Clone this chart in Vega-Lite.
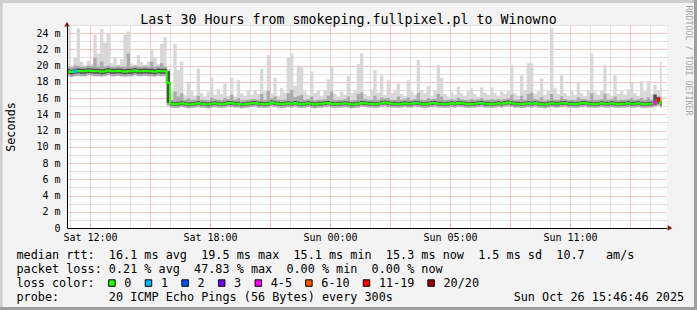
{
"$schema": "https://vega.github.io/schema/vega-lite/v6.json",
"width": 600, "height": 203,
"autosize": {"type": "none"},
"padding": {"left": 67, "top": 25, "right": 30, "bottom": 82},
"background": "#f3f3f3",
"config": {"view": {"fill": "#ffffff", "stroke": null}, "font": "DejaVu Sans Mono"},
"data": {"values": [
{"t":55,"med":19.3,"lo":18.7,"q1":19.0,"q3":19.6,"up":19.9,"max":24.6},
{"t":65,"med":19.2,"lo":18.6,"q1":18.9,"q3":19.5,"up":19.8,"max":20.0},
{"t":75,"med":19.3,"lo":18.7,"q1":19.0,"q3":19.6,"up":20.0,"max":21.0,"loss":"1"},
{"t":85,"med":19.35,"lo":18.75,"q1":19.05,"q3":19.65,"up":19.95,"max":24.6},
{"t":95,"med":19.3,"lo":18.7,"q1":19.0,"q3":19.6,"up":19.9,"max":20.5},
{"t":105,"med":19.3,"lo":18.7,"q1":19.0,"q3":19.6,"up":19.9,"max":20.0},
{"t":115,"med":19.4,"lo":18.8,"q1":19.1,"q3":19.7,"up":20.0,"max":20.6},
{"t":125,"med":19.35,"lo":18.75,"q1":19.05,"q3":19.65,"up":19.95,"max":20.2},
{"t":135,"med":19.3,"lo":18.7,"q1":19.0,"q3":19.6,"up":21.0,"max":23.8},
{"t":145,"med":19.3,"lo":18.7,"q1":19.0,"q3":19.6,"up":19.9,"max":21.5},
{"t":155,"med":19.25,"lo":18.65,"q1":18.95,"q3":19.55,"up":20.5,"max":24.5},
{"t":165,"med":19.3,"lo":18.7,"q1":19.0,"q3":19.6,"up":19.9,"max":22.8},
{"t":175,"med":19.4,"lo":18.8,"q1":19.1,"q3":19.7,"up":20.0,"max":24.0},
{"t":185,"med":19.3,"lo":18.7,"q1":19.0,"q3":19.6,"up":19.9,"max":20.3},
{"t":195,"med":19.3,"lo":18.7,"q1":19.0,"q3":19.6,"up":19.9,"max":21.0},
{"t":205,"med":19.35,"lo":18.75,"q1":19.05,"q3":19.65,"up":19.95,"max":20.1},
{"t":215,"med":19.3,"lo":18.7,"q1":19.0,"q3":19.6,"up":19.9,"max":20.8},
{"t":225,"med":19.25,"lo":18.65,"q1":18.95,"q3":19.55,"up":19.85,"max":23.8},
{"t":235,"med":19.3,"lo":18.7,"q1":19.0,"q3":19.6,"up":21.5,"max":24.2},
{"t":245,"med":19.3,"lo":18.7,"q1":19.0,"q3":19.6,"up":19.9,"max":20.3},
{"t":255,"med":19.4,"lo":18.8,"q1":19.1,"q3":19.7,"up":20.0,"max":20.1},
{"t":265,"med":19.3,"lo":18.7,"q1":19.0,"q3":19.6,"up":19.9,"max":21.3},
{"t":275,"med":19.3,"lo":18.7,"q1":19.0,"q3":19.6,"up":19.9,"max":20.4},
{"t":285,"med":19.35,"lo":18.75,"q1":19.05,"q3":19.65,"up":19.95,"max":20.1},
{"t":295,"med":19.3,"lo":18.7,"q1":19.0,"q3":19.6,"up":19.9,"max":20.5},
{"t":305,"med":19.3,"lo":18.7,"q1":19.0,"q3":19.6,"up":20.5,"max":22.0},
{"t":315,"med":19.25,"lo":18.65,"q1":18.95,"q3":19.55,"up":19.85,"max":21.0},
{"t":325,"med":19.35,"lo":18.75,"q1":19.05,"q3":19.65,"up":19.95,"max":20.2},
{"t":335,"med":19.3,"lo":18.7,"q1":19.0,"q3":19.6,"up":20.3,"max":22.7},
{"t":345,"med":19.3,"lo":18.7,"q1":19.0,"q3":19.6,"up":19.9,"max":23.5},
{"t":355,"med":17.9,"lo":15.1,"q1":15.4,"q3":19.3,"up":19.4,"max":19.6},
{"t":365,"med":15.3,"lo":14.85,"q1":15.1,"q3":15.55,"up":15.8,"max":16.8},
{"t":375,"med":15.25,"lo":14.8,"q1":15.05,"q3":15.5,"up":16.8,"max":22.7},
{"t":385,"med":15.3,"lo":14.85,"q1":15.1,"q3":15.55,"up":16.2,"max":19.5},
{"t":395,"med":15.35,"lo":14.9,"q1":15.15,"q3":15.6,"up":16.6,"max":20.5},
{"t":405,"med":15.3,"lo":14.85,"q1":15.1,"q3":15.55,"up":15.8,"max":16.4},
{"t":415,"med":15.2,"lo":14.75,"q1":15.0,"q3":15.45,"up":16.0,"max":18.0},
{"t":425,"med":15.25,"lo":14.8,"q1":15.05,"q3":15.5,"up":15.8,"max":16.9},
{"t":435,"med":15.3,"lo":14.85,"q1":15.1,"q3":15.55,"up":15.8,"max":16.3},
{"t":445,"med":15.4,"lo":14.95,"q1":15.2,"q3":15.65,"up":16.3,"max":19.6},
{"t":455,"med":15.3,"lo":14.85,"q1":15.1,"q3":15.55,"up":15.8,"max":16.6},
{"t":465,"med":15.25,"lo":14.8,"q1":15.05,"q3":15.5,"up":15.75,"max":16.2},
{"t":475,"med":15.2,"lo":14.75,"q1":15.0,"q3":15.45,"up":15.7,"max":16.8},
{"t":485,"med":15.3,"lo":14.85,"q1":15.1,"q3":15.55,"up":16.1,"max":18.5},
{"t":495,"med":15.35,"lo":14.9,"q1":15.15,"q3":15.6,"up":15.85,"max":16.4},
{"t":505,"med":15.3,"lo":14.85,"q1":15.1,"q3":15.55,"up":15.8,"max":17.1},
{"t":515,"med":15.25,"lo":14.8,"q1":15.05,"q3":15.5,"up":15.75,"max":16.5},
{"t":525,"med":15.3,"lo":14.85,"q1":15.1,"q3":15.55,"up":16.0,"max":17.8},
{"t":535,"med":15.4,"lo":14.95,"q1":15.2,"q3":15.65,"up":15.9,"max":16.3},
{"t":545,"med":15.35,"lo":14.9,"q1":15.15,"q3":15.6,"up":16.4,"max":18.5},
{"t":555,"med":15.3,"lo":14.85,"q1":15.1,"q3":15.55,"up":15.8,"max":16.2},
{"t":565,"med":15.3,"lo":14.85,"q1":15.1,"q3":15.55,"up":16.0,"max":18.2},
{"t":575,"med":15.2,"lo":14.75,"q1":15.0,"q3":15.45,"up":15.7,"max":16.6},
{"t":585,"med":15.25,"lo":14.8,"q1":15.05,"q3":15.5,"up":15.75,"max":16.3},
{"t":595,"med":15.3,"lo":14.85,"q1":15.1,"q3":15.55,"up":15.8,"max":16.9},
{"t":605,"med":15.35,"lo":14.9,"q1":15.15,"q3":15.6,"up":15.85,"max":16.4},
{"t":615,"med":15.4,"lo":14.95,"q1":15.2,"q3":15.65,"up":15.9,"max":17.0},
{"t":625,"med":15.3,"lo":14.85,"q1":15.1,"q3":15.55,"up":15.8,"max":16.5},
{"t":635,"med":15.3,"lo":14.85,"q1":15.1,"q3":15.55,"up":16.5,"max":19.6},
{"t":645,"med":15.25,"lo":14.8,"q1":15.05,"q3":15.5,"up":15.75,"max":16.8},
{"t":655,"med":15.3,"lo":14.85,"q1":15.1,"q3":15.55,"up":16.9,"max":21.3},
{"t":665,"med":15.45,"lo":15.0,"q1":15.25,"q3":15.7,"up":15.95,"max":16.6},
{"t":675,"med":15.35,"lo":14.9,"q1":15.15,"q3":15.6,"up":16.2,"max":18.5},
{"t":685,"med":15.3,"lo":14.85,"q1":15.1,"q3":15.55,"up":15.8,"max":16.3},
{"t":695,"med":15.25,"lo":14.8,"q1":15.05,"q3":15.5,"up":15.75,"max":17.2},
{"t":705,"med":15.3,"lo":14.85,"q1":15.1,"q3":15.55,"up":15.8,"max":16.7},
{"t":715,"med":15.35,"lo":14.9,"q1":15.15,"q3":15.6,"up":16.6,"max":21.0},
{"t":725,"med":15.3,"lo":14.85,"q1":15.1,"q3":15.55,"up":17.0,"max":21.5},
{"t":735,"med":15.4,"lo":14.95,"q1":15.2,"q3":15.65,"up":16.1,"max":17.5},
{"t":745,"med":15.3,"lo":14.85,"q1":15.1,"q3":15.55,"up":16.3,"max":20.0},
{"t":755,"med":15.25,"lo":14.8,"q1":15.05,"q3":15.5,"up":16.4,"max":19.8},
{"t":765,"med":15.3,"lo":14.85,"q1":15.1,"q3":15.55,"up":15.8,"max":16.8},
{"t":775,"med":15.35,"lo":14.9,"q1":15.15,"q3":15.6,"up":15.85,"max":16.4},
{"t":785,"med":15.3,"lo":14.85,"q1":15.1,"q3":15.55,"up":16.2,"max":19.3},
{"t":795,"med":15.2,"lo":14.75,"q1":15.0,"q3":15.45,"up":15.7,"max":16.6},
{"t":805,"med":15.3,"lo":14.85,"q1":15.1,"q3":15.55,"up":15.8,"max":16.9},
{"t":815,"med":15.3,"lo":14.85,"q1":15.1,"q3":15.55,"up":15.8,"max":16.3},
{"t":825,"med":15.35,"lo":14.9,"q1":15.15,"q3":15.6,"up":15.85,"max":17.0},
{"t":835,"med":15.4,"lo":14.95,"q1":15.2,"q3":15.65,"up":16.3,"max":18.3},
{"t":845,"med":15.3,"lo":14.85,"q1":15.1,"q3":15.55,"up":16.8,"max":19.8},
{"t":855,"med":15.25,"lo":14.8,"q1":15.05,"q3":15.5,"up":15.75,"max":16.5},
{"t":865,"med":15.3,"lo":14.85,"q1":15.1,"q3":15.55,"up":15.8,"max":16.2},
{"t":875,"med":15.3,"lo":14.85,"q1":15.1,"q3":15.55,"up":15.8,"max":16.8},
{"t":885,"med":15.35,"lo":14.9,"q1":15.15,"q3":15.6,"up":15.85,"max":16.4},
{"t":895,"med":15.3,"lo":14.85,"q1":15.1,"q3":15.55,"up":16.2,"max":18.7},
{"t":905,"med":15.2,"lo":14.75,"q1":15.0,"q3":15.45,"up":15.7,"max":16.6},
{"t":915,"med":15.25,"lo":14.8,"q1":15.05,"q3":15.5,"up":15.75,"max":16.9},
{"t":925,"med":15.3,"lo":14.85,"q1":15.1,"q3":15.55,"up":16.5,"max":20.2},
{"t":935,"med":15.4,"lo":14.95,"q1":15.2,"q3":15.65,"up":16.7,"max":21.5},
{"t":945,"med":15.35,"lo":14.9,"q1":15.15,"q3":15.6,"up":15.85,"max":16.5},
{"t":955,"med":15.3,"lo":14.85,"q1":15.1,"q3":15.55,"up":15.8,"max":16.3},
{"t":965,"med":15.3,"lo":14.85,"q1":15.1,"q3":15.55,"up":15.8,"max":17.1},
{"t":975,"med":15.25,"lo":14.8,"q1":15.05,"q3":15.5,"up":16.3,"max":19.5},
{"t":985,"med":15.3,"lo":14.85,"q1":15.1,"q3":15.55,"up":15.8,"max":16.7},
{"t":995,"med":15.4,"lo":14.95,"q1":15.2,"q3":15.65,"up":16.1,"max":18.8},
{"t":1005,"med":15.45,"lo":15.0,"q1":15.25,"q3":15.7,"up":15.95,"max":16.4},
{"t":1015,"med":15.35,"lo":14.9,"q1":15.15,"q3":15.6,"up":16.0,"max":18.2},
{"t":1025,"med":15.3,"lo":14.85,"q1":15.1,"q3":15.55,"up":15.8,"max":16.6},
{"t":1035,"med":15.3,"lo":14.85,"q1":15.1,"q3":15.55,"up":15.8,"max":16.9},
{"t":1045,"med":15.25,"lo":14.8,"q1":15.05,"q3":15.5,"up":16.2,"max":17.8},
{"t":1055,"med":15.3,"lo":14.85,"q1":15.1,"q3":15.55,"up":15.8,"max":16.5},
{"t":1065,"med":15.35,"lo":14.9,"q1":15.15,"q3":15.6,"up":15.85,"max":16.3},
{"t":1075,"med":15.3,"lo":14.85,"q1":15.1,"q3":15.55,"up":16.1,"max":18.2},
{"t":1085,"med":15.3,"lo":14.85,"q1":15.1,"q3":15.55,"up":15.8,"max":16.8},
{"t":1095,"med":15.4,"lo":14.95,"q1":15.2,"q3":15.65,"up":15.9,"max":16.4},
{"t":1105,"med":15.35,"lo":14.9,"q1":15.15,"q3":15.6,"up":16.6,"max":20.7},
{"t":1115,"med":15.3,"lo":14.85,"q1":15.1,"q3":15.55,"up":15.8,"max":17.0},
{"t":1125,"med":15.25,"lo":14.8,"q1":15.05,"q3":15.5,"up":15.75,"max":16.6},
{"t":1135,"med":15.3,"lo":14.85,"q1":15.1,"q3":15.55,"up":16.0,"max":17.5},
{"t":1145,"med":15.35,"lo":14.9,"q1":15.15,"q3":15.6,"up":15.85,"max":16.3},
{"t":1155,"med":15.4,"lo":14.95,"q1":15.2,"q3":15.65,"up":15.9,"max":16.9},
{"t":1165,"med":15.3,"lo":14.85,"q1":15.1,"q3":15.55,"up":16.5,"max":20.1},
{"t":1175,"med":15.3,"lo":14.85,"q1":15.1,"q3":15.55,"up":16.2,"max":18.5},
{"t":1185,"med":15.25,"lo":14.8,"q1":15.05,"q3":15.5,"up":15.75,"max":16.5},
{"t":1195,"med":15.3,"lo":14.85,"q1":15.1,"q3":15.55,"up":15.8,"max":16.2},
{"t":1205,"med":15.35,"lo":14.9,"q1":15.15,"q3":15.6,"up":15.85,"max":16.8},
{"t":1215,"med":15.3,"lo":14.85,"q1":15.1,"q3":15.55,"up":15.8,"max":16.4},
{"t":1225,"med":15.4,"lo":14.95,"q1":15.2,"q3":15.65,"up":16.0,"max":17.4},
{"t":1235,"med":15.35,"lo":14.9,"q1":15.15,"q3":15.6,"up":15.85,"max":16.6},
{"t":1245,"med":15.3,"lo":14.85,"q1":15.1,"q3":15.55,"up":15.8,"max":16.3},
{"t":1255,"med":15.25,"lo":14.8,"q1":15.05,"q3":15.5,"up":15.75,"max":16.9},
{"t":1265,"med":15.3,"lo":14.85,"q1":15.1,"q3":15.55,"up":15.9,"max":17.2},
{"t":1275,"med":15.3,"lo":14.85,"q1":15.1,"q3":15.55,"up":15.8,"max":16.5},
{"t":1285,"med":15.35,"lo":14.9,"q1":15.15,"q3":15.6,"up":15.85,"max":16.2},
{"t":1295,"med":15.4,"lo":14.95,"q1":15.2,"q3":15.65,"up":16.0,"max":17.3},
{"t":1305,"med":15.3,"lo":14.85,"q1":15.1,"q3":15.55,"up":15.8,"max":16.7},
{"t":1315,"med":15.3,"lo":14.85,"q1":15.1,"q3":15.55,"up":15.8,"max":16.4},
{"t":1325,"med":15.25,"lo":14.8,"q1":15.05,"q3":15.5,"up":15.9,"max":17.3},
{"t":1335,"med":15.3,"lo":14.85,"q1":15.1,"q3":15.55,"up":15.8,"max":16.6},
{"t":1345,"med":15.35,"lo":14.9,"q1":15.15,"q3":15.6,"up":15.85,"max":16.3},
{"t":1355,"med":15.3,"lo":14.85,"q1":15.1,"q3":15.55,"up":15.8,"max":16.8},
{"t":1365,"med":15.4,"lo":14.95,"q1":15.2,"q3":15.65,"up":15.9,"max":16.5},
{"t":1375,"med":15.45,"lo":15.0,"q1":15.25,"q3":15.7,"up":15.95,"max":16.9},
{"t":1385,"med":15.35,"lo":14.9,"q1":15.15,"q3":15.6,"up":16.4,"max":20.1},
{"t":1395,"med":15.3,"lo":14.85,"q1":15.1,"q3":15.55,"up":15.8,"max":16.6},
{"t":1405,"med":15.3,"lo":14.85,"q1":15.1,"q3":15.55,"up":15.8,"max":16.3},
{"t":1415,"med":15.25,"lo":14.8,"q1":15.05,"q3":15.5,"up":16.3,"max":18.8},
{"t":1425,"med":15.3,"lo":14.85,"q1":15.1,"q3":15.55,"up":15.8,"max":17.0},
{"t":1435,"med":15.35,"lo":14.9,"q1":15.15,"q3":15.6,"up":16.5,"max":20.3},
{"t":1445,"med":15.3,"lo":14.85,"q1":15.1,"q3":15.55,"up":16.7,"max":20.3},
{"t":1455,"med":15.4,"lo":14.95,"q1":15.2,"q3":15.65,"up":15.9,"max":16.5},
{"t":1465,"med":15.3,"lo":14.85,"q1":15.1,"q3":15.55,"up":15.8,"max":16.8},
{"t":1475,"med":15.25,"lo":14.8,"q1":15.05,"q3":15.5,"up":16.1,"max":18.4},
{"t":1485,"med":15.2,"lo":14.75,"q1":15.0,"q3":15.45,"up":15.7,"max":16.4},
{"t":1495,"med":15.3,"lo":14.85,"q1":15.1,"q3":15.55,"up":15.8,"max":16.9},
{"t":1505,"med":15.35,"lo":14.9,"q1":15.15,"q3":15.6,"up":16.5,"max":24.6},
{"t":1515,"med":15.3,"lo":14.85,"q1":15.1,"q3":15.55,"up":15.8,"max":17.2},
{"t":1525,"med":15.3,"lo":14.85,"q1":15.1,"q3":15.55,"up":15.8,"max":16.5},
{"t":1535,"med":15.35,"lo":14.9,"q1":15.15,"q3":15.6,"up":16.2,"max":18.8},
{"t":1545,"med":15.4,"lo":14.95,"q1":15.2,"q3":15.65,"up":15.9,"max":16.6},
{"t":1555,"med":15.3,"lo":14.85,"q1":15.1,"q3":15.55,"up":15.8,"max":16.3},
{"t":1565,"med":15.3,"lo":14.85,"q1":15.1,"q3":15.55,"up":15.8,"max":16.9},
{"t":1575,"med":15.25,"lo":14.8,"q1":15.05,"q3":15.5,"up":15.75,"max":16.4},
{"t":1585,"med":15.3,"lo":14.85,"q1":15.1,"q3":15.55,"up":16.1,"max":17.9},
{"t":1595,"med":15.35,"lo":14.9,"q1":15.15,"q3":15.6,"up":15.85,"max":16.6},
{"t":1605,"med":15.4,"lo":14.95,"q1":15.2,"q3":15.65,"up":15.9,"max":16.3},
{"t":1615,"med":15.3,"lo":14.85,"q1":15.1,"q3":15.55,"up":15.8,"max":17.0},
{"t":1625,"med":15.3,"lo":14.85,"q1":15.1,"q3":15.55,"up":16.6,"max":21.5},
{"t":1635,"med":15.25,"lo":14.8,"q1":15.05,"q3":15.5,"up":15.75,"max":16.8},
{"t":1645,"med":15.3,"lo":14.85,"q1":15.1,"q3":15.55,"up":15.8,"max":16.4},
{"t":1655,"med":15.35,"lo":14.9,"q1":15.15,"q3":15.6,"up":15.85,"max":16.9},
{"t":1665,"med":15.3,"lo":14.85,"q1":15.1,"q3":15.55,"up":16.5,"max":20.1},
{"t":1675,"med":15.3,"lo":14.85,"q1":15.1,"q3":15.55,"up":15.8,"max":16.6},
{"t":1685,"med":15.35,"lo":14.9,"q1":15.15,"q3":15.6,"up":15.85,"max":16.3},
{"t":1695,"med":15.3,"lo":14.85,"q1":15.1,"q3":15.55,"up":16.2,"max":18.8},
{"t":1705,"med":15.25,"lo":14.8,"q1":15.05,"q3":15.5,"up":15.75,"max":16.5},
{"t":1715,"med":15.3,"lo":14.85,"q1":15.1,"q3":15.55,"up":15.8,"max":16.9},
{"t":1725,"med":15.3,"lo":14.85,"q1":15.1,"q3":15.55,"up":15.8,"max":16.4},
{"t":1735,"med":15.35,"lo":14.9,"q1":15.15,"q3":15.6,"up":15.85,"max":17.1},
{"t":1745,"med":15.3,"lo":14.85,"q1":15.1,"q3":15.55,"up":16.0,"max":17.9},
{"t":1755,"med":15.3,"lo":14.85,"q1":15.1,"q3":15.55,"up":15.8,"max":16.6},
{"t":1765,"med":15.35,"lo":14.9,"q1":15.15,"q3":15.6,"up":15.85,"max":16.3},
{"t":1775,"med":15.3,"lo":14.85,"q1":15.1,"q3":15.55,"up":16.0,"max":18.1},
{"t":1785,"med":15.25,"lo":14.8,"q1":15.05,"q3":15.5,"up":15.75,"max":16.8},
{"t":1795,"med":15.3,"lo":14.85,"q1":15.1,"q3":15.55,"up":16.1,"max":18.1},
{"t":1805,"med":15.3,"lo":14.85,"q1":15.1,"q3":15.55,"up":15.8,"max":16.5},
{"t":1815,"med":15.4,"lo":14.95,"q1":15.2,"q3":16.4,"up":16.5,"max":17.6,"loss":"4-5"},
{"t":1825,"med":15.8,"lo":15.1,"q1":15.3,"q3":16.1,"up":16.2,"max":17.0,"loss":"11-19"},
{"t":1835,"med":15.3,"lo":14.85,"q1":15.1,"q3":15.55,"up":16.2,"max":20.5}
]},
"resolve": {"axis": {"x": "independent", "y": "independent"}},
"layer": [
{"mark": {"type": "area", "interpolate": "step", "color": "#d8d8d8"},
 "encoding": {
  "x": {"field": "t", "type": "quantitative", "scale": {"domain": [51, 1851], "nice": false, "zero": false},
   "axis": {"orient": "bottom", "values": [120, 300, 480, 660, 840, 1020, 1200, 1380, 1560, 1740],
    "labelExpr": "datum.value == 120 ? 'Sat 12:00' : datum.value == 480 ? 'Sat 18:00' : datum.value == 840 ? 'Sun 00:00' : datum.value == 1200 ? 'Sun 05:00' : datum.value == 1560 ? 'Sun 11:00' : ''",
    "labelFont": "DejaVu Sans Mono", "labelFontSize": 10, "labelColor": "#000000", "labelPadding": 4, "labelOverlap": false, "labelFlush": false, "labelBound": false,
    "ticks": false, "domain": true, "domainColor": "#000000", "domainWidth": 1,
    "grid": true, "gridColor": "#f08c8c", "gridDash": [1, 1], "gridWidth": 1,
    "title": ["median rtt: \u00a016.1 ms avg \u00a019.5 ms max \u00a015.1 ms min \u00a015.3 ms now \u00a01.5 ms sd \u00a010.7 \u00a0\u00a0am/s", "packet loss: 0.21 % avg \u00a047.83 % max \u00a00.00 % min \u00a00.00 % now", "loss color:", "probe: \u00a0\u00a0\u00a0\u00a0\u00a0\u00a020 ICMP Echo Pings (56 Bytes) every 300s \u00a0\u00a0\u00a0\u00a0\u00a0\u00a0\u00a0\u00a0\u00a0\u00a0\u00a0\u00a0\u00a0\u00a0\u00a0\u00a0Sun Oct 26 15:46:46 2025"],
    "titleFont": "DejaVu Sans Mono", "titleFontSize": 11.8, "titleFontWeight": "normal", "titleColor": "#000000",
    "titleAlign": "left", "titleBaseline": "alphabetic", "titleX": -51, "titleY": 30, "titleLineHeight": 14}},
  "y": {"field": "lo", "type": "quantitative", "scale": {"domain": [0, 25], "nice": false, "zero": false},
   "axis": {"orient": "left", "values": [0, 2, 4, 6, 8, 10, 12, 14, 16, 18, 20, 22, 24],
    "labelExpr": "datum.value == 0 ? '0\u00a0\u00a0' : datum.value + ' m'",
    "labelFont": "DejaVu Sans Mono", "labelFontSize": 10, "labelColor": "#000000", "labelPadding": 7,
    "ticks": false, "domain": true, "domainColor": "#000000", "domainWidth": 1,
    "grid": true, "gridColor": "#f08c8c", "gridDash": [1, 1], "gridWidth": 1,
    "title": "Seconds", "titleFont": "DejaVu Sans Mono", "titleFontSize": 11.8, "titleFontWeight": "normal", "titleColor": "#000000",
    "titleAngle": -90, "titleX": -57, "titleY": 101.5, "titleAlign": "center", "titleBaseline": "middle"}},
  "y2": {"field": "max"}
 }},
{"mark": {"type": "area", "interpolate": "step", "color": "#ababab"},
 "encoding": {
  "x": {"field": "t", "type": "quantitative", "scale": {"domain": [51, 1851], "nice": false, "zero": false},
   "axis": {"orient": "top", "values": [60, 180, 240, 360, 420, 540, 600, 720, 780, 900, 960, 1080, 1140, 1260, 1320, 1440, 1500, 1620, 1680, 1800],
    "labels": false, "ticks": false, "domain": false, "grid": true, "gridColor": "#c4c4c4", "gridDash": [1, 1], "gridWidth": 1,
    "title": "Last 30 Hours from smokeping.fullpixel.pl to Winowno", "titleFont": "DejaVu Sans Mono", "titleFontSize": 13.3, "titleFontWeight": "normal", "titleColor": "#000000",
    "titleAngle": 0, "titleX": 281, "titleY": -6, "titleAlign": "center", "titleBaseline": "middle"}},
  "y": {"field": "lo", "type": "quantitative", "scale": {"domain": [0, 25], "nice": false, "zero": false},
   "axis": {"orient": "right", "values": [1, 3, 5, 7, 9, 11, 13, 15, 17, 19, 21, 23, 25],
    "labels": false, "ticks": false, "domain": false, "grid": true, "gridColor": "#c4c4c4", "gridDash": [1, 1], "gridWidth": 1,
    "title": "RRDTOOL / TOBI OETIKER", "titleFont": "DejaVu Sans Mono", "titleFontSize": 8.3, "titleFontWeight": "normal", "titleColor": "#a8a8a8",
    "titleAngle": 90, "titleX": 20, "titleY": -20, "titleAlign": "left", "titleBaseline": "middle"}},
  "y2": {"field": "up"}
 }},
{"mark": {"type": "area", "interpolate": "step", "color": "#505050"},
 "encoding": {
  "x": {"field": "t", "type": "quantitative", "scale": {"domain": [51, 1851], "nice": false, "zero": false}, "axis": null},
  "y": {"field": "q1", "type": "quantitative", "scale": {"domain": [0, 25], "nice": false, "zero": false}, "axis": null},
  "y2": {"field": "q3"}
 }},
{"mark": {"type": "line", "interpolate": "step", "color": "#26ff00", "strokeWidth": 2},
 "encoding": {
  "x": {"field": "t", "type": "quantitative", "scale": {"domain": [51, 1851], "nice": false, "zero": false}, "axis": null},
  "y": {"field": "med", "type": "quantitative", "scale": {"domain": [0, 25], "nice": false, "zero": false}, "axis": null}
 }},
{"transform": [{"filter": "datum.loss != null"}],
 "mark": {"type": "square", "size": 14, "opacity": 1},
 "encoding": {
  "x": {"field": "t", "type": "quantitative", "scale": {"domain": [51, 1851], "nice": false, "zero": false}, "axis": null},
  "y": {"field": "med", "type": "quantitative", "scale": {"domain": [0, 25], "nice": false, "zero": false}, "axis": null},
  "color": {"field": "loss", "type": "nominal",
   "scale": {"domain": ["0", "1", "2", "3", "4-5", "6-10", "11-19", "20/20"], "range": ["#26ff00", "#00b8ff", "#0059ff", "#7e00ff", "#ff00ff", "#ff5500", "#ff0000", "#a10000"]},
   "legend": {"orient": "none", "legendX": 39, "legendY": 252, "direction": "horizontal", "columns": 8, "title": null,
    "labelFont": "DejaVu Sans Mono", "labelFontSize": 11.8, "labelColor": "#000000", "labelOffset": 6.5, "columnPadding": 10.6,
    "symbolType": "square", "symbolSize": 42, "symbolStrokeColor": "#000000", "symbolStrokeWidth": 1, "symbolOpacity": 1, "padding": 0, "labelLimit": 0}}
 }},
{"data": {"values": [{"k": 1}]},
 "mark": {"type": "rule", "color": "#cfcfcf", "strokeWidth": 3},
 "encoding": {
  "x": {"datum": -150, "type": "quantitative", "scale": {"domain": [51, 1851], "nice": false, "zero": false}, "axis": null},
  "x2": {"datum": 1940},
  "y": {"datum": 27.9, "type": "quantitative", "scale": {"domain": [0, 25], "nice": false, "zero": false}, "axis": null}
 }},
{"data": {"values": [{"k": 1}]},
 "mark": {"type": "rule", "color": "#cfcfcf", "strokeWidth": 3},
 "encoding": {
  "x": {"datum": -146.5, "type": "quantitative", "scale": {"domain": [51, 1851], "nice": false, "zero": false}, "axis": null},
  "y": {"datum": 28.3, "type": "quantitative", "scale": {"domain": [0, 25], "nice": false, "zero": false}, "axis": null},
  "y2": {"datum": -10.3}
 }},
{"data": {"values": [{"k": 1}]},
 "mark": {"type": "rule", "color": "#9e9e9e", "strokeWidth": 3},
 "encoding": {
  "x": {"datum": 1936.5, "type": "quantitative", "scale": {"domain": [51, 1851], "nice": false, "zero": false}, "axis": null},
  "y": {"datum": 28.3, "type": "quantitative", "scale": {"domain": [0, 25], "nice": false, "zero": false}, "axis": null},
  "y2": {"datum": -10.3}
 }},
{"data": {"values": [{"k": 1}]},
 "mark": {"type": "rule", "color": "#9e9e9e", "strokeWidth": 3},
 "encoding": {
  "x": {"datum": -150, "type": "quantitative", "scale": {"domain": [51, 1851], "nice": false, "zero": false}, "axis": null},
  "x2": {"datum": 1940},
  "y": {"datum": -9.92, "type": "quantitative", "scale": {"domain": [0, 25], "nice": false, "zero": false}, "axis": null}
 }},
{"data": {"values": [{"k": 1}]},
 "mark": {"type": "point", "shape": "triangle-up", "filled": true, "size": 30, "color": "#7f1f1f", "opacity": 1},
 "encoding": {
  "x": {"datum": 51, "type": "quantitative", "scale": {"domain": [51, 1851], "nice": false, "zero": false}, "axis": null},
  "y": {"datum": 25.1, "type": "quantitative", "scale": {"domain": [0, 25], "nice": false, "zero": false}, "axis": null}
 }},
{"data": {"values": [{"k": 1}]},
 "mark": {"type": "point", "shape": "triangle-right", "filled": true, "size": 30, "color": "#7f1f1f", "opacity": 1},
 "encoding": {
  "x": {"datum": 1860, "type": "quantitative", "scale": {"domain": [51, 1851], "nice": false, "zero": false}, "axis": null},
  "y": {"datum": 0, "type": "quantitative", "scale": {"domain": [0, 25], "nice": false, "zero": false}, "axis": null}
 }}
]
}
